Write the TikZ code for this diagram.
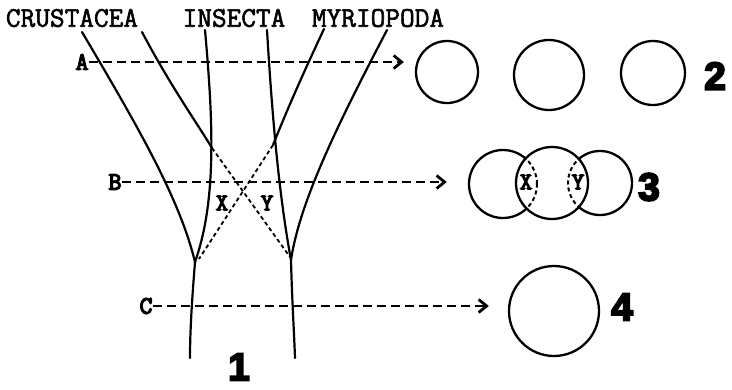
\documentclass[tikz,border=0pt]{standalone}
\usepackage{fontspec}
\usepackage{graphicx}
\usetikzlibrary{arrows.meta}
\newfontfamily\twfont{Latin Modern Mono}[FakeBold=2]
\newfontfamily\twbold{Latin Modern Mono}[FakeBold=5]
\newfontfamily\numfont{Liberation Sans}[BoldFeatures={FakeBold=5}]
\begin{document}
\begin{tikzpicture}[x=1pt,y=-1pt,
  trunk/.style={line width=2.2pt, line cap=round},
  crossln/.style={line width=1.8pt, dash pattern=on 4pt off 3pt},
  arr/.style={line width=2.8pt, dash pattern=on 9pt off 5pt, -{Straight Barb[length=8pt,width=13pt]}},
  ring/.style={circle, draw, line width=2.3pt, inner sep=0pt},
  hidden/.style={circle, inner sep=0pt},
  title/.style={font=\twfont\fontsize{28.5}{28.5}\selectfont, inner sep=0pt},
  lbl/.style={font=\twbold\fontsize{25}{25}\selectfont, inner sep=0pt},
  small/.style={font=\twbold\fontsize{24}{24}\selectfont, inner sep=0pt},
  big/.style={font=\numfont\bfseries\fontsize{39}{39}\selectfont, inner sep=0pt}]
\fill[white] (0,0) rectangle (732,389);
\useasboundingbox (0,0) rectangle (732,389);

% titles
\node[title] (crus) at (72,18) {CRUSTACEA};
\node[title] (ins) at (234,18) {INSECTA};
\node[title] (myr) at (378,18) {MYRIOPODA};

% key points
\coordinate (t1) at (82,32);
\coordinate (t2) at (142,32);
\coordinate (t3) at (205,30);
\coordinate (t4) at (267,30);
\coordinate (t5) at (324,29);
\coordinate (t6) at (387,30);
\coordinate (xl) at (212,148);
\coordinate (xr) at (273,145);
\coordinate (jl) at (195,262);
\coordinate (jr) at (291,260);
\coordinate (bl1) at (190,358);
\coordinate (br1) at (295,358);
\coordinate (dl) at (199,259);
\coordinate (dr) at (290,257);

% lineages
\draw[trunk] (t1) .. controls (140,130) and (180,200) .. (jl);
\draw[trunk] (t3) .. controls (213,120) and (217,200) .. (jl);
\draw[trunk] (jl) .. controls (192,300) and (190,330) .. (bl1);
\draw[trunk] (t2) .. controls (170,85) and (195,120) .. (xl);
\draw[trunk] (t4) .. controls (273,130) and (280,200) .. (jr);
\draw[trunk] (t5) .. controls (300,80) and (285,115) .. (xr);
\draw[trunk] (t6) .. controls (340,120) and (300,200) .. (jr);
\draw[trunk] (jr) .. controls (292,300) and (294,330) .. (br1);
\draw[crossln] (xl) -- (dr);
\draw[crossln] (xr) -- (dl);
\node[small] (X) at (222,203) {X};
\node[small] (Y) at (267,203) {Y};
\node[big] (n1) at (239,367) {1};

% row A circles
\node[ring, minimum size=62pt] (a1) at (447,72) {};
\node[ring, minimum size=70pt] (a2) at (549,75) {};
\node[ring, minimum size=64pt] (a3) at (653,73) {};
\node[big] (n2) at (715,76) {2};

% row B circles
\node[ring, minimum size=72pt] (bm) at (552,183) {};
\node[hidden, minimum size=68pt] (bl) at (503,184) {};
\node[hidden, minimum size=64pt] (br) at (600,183) {};
\begin{scope}[even odd rule]
  \clip (0,0) rectangle (732,389) (552,183) circle (36pt);
  \draw[line width=2.3pt] (503,184) circle (34pt);
  \draw[line width=2.3pt] (600,183) circle (32pt);
\end{scope}
\begin{scope}
  \clip (552,183) circle (36pt);
  \draw[line width=2pt, dash pattern=on 4pt off 3pt] (503,184) circle (34pt);
  \draw[line width=2pt, dash pattern=on 4pt off 3pt] (600,183) circle (32pt);
\end{scope}
\node[small] (bx) at (526,182) {X};
\node[small] (by) at (578,182) {Y};
\node[big] (n3) at (649,187) {3};

% row C circle
\node[ring, minimum size=90pt] (c1) at (554,311) {};
\node[big] (n4) at (622,307) {4};

% level arrows
\node[lbl] (A) at (82,62) {A};
\node[lbl] (B) at (115,182) {B};
\node[lbl] (C) at (146,306) {C};
\draw[arr, shorten >=11pt] (A.east) -- (A.east -| a1.west);
\draw[arr, shorten >=22pt] (B.east) -- (B.east -| bl.west);
\draw[arr, shorten >=19pt] (C.east) -- (C.east -| c1.west);
\end{tikzpicture}
\end{document}
